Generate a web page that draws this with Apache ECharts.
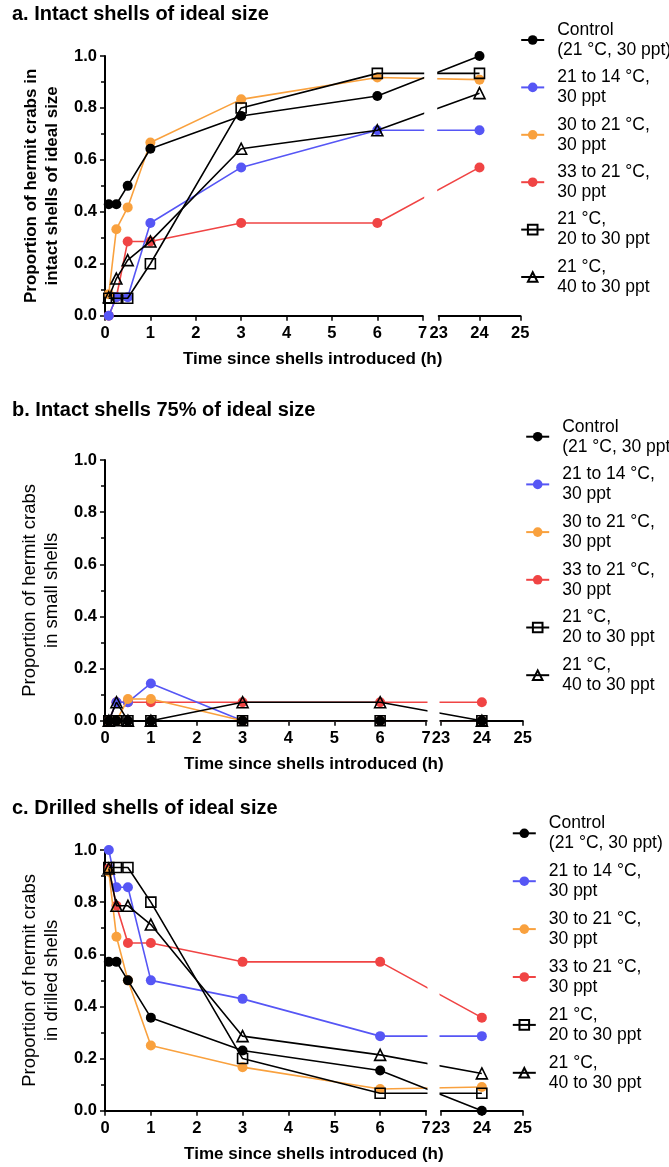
<!DOCTYPE html>
<html><head><meta charset="utf-8">
<script src="https://cdn.jsdelivr.net/npm/echarts@6/dist/echarts.min.js"></script>
<style>html,body{margin:0;padding:0;background:#fff}#c{width:669px;height:1167px}</style>
</head><body><div id="c"></div>
<script>
// ---- data ----
const times = [0.083, 0.25, 0.5, 1, 3, 6, 24];
const seriesNames = ['Control\n(21 °C, 30 ppt)', '21 to 14 °C,\n30 ppt', '30 to 21 °C,\n30 ppt', '33 to 21 °C,\n30 ppt', '21 °C,\n20 to 30 ppt', '21 °C,\n40 to 30 ppt'];
const leftTicks = [0, 7];     // left axis segment range (h)
const rightTicks = [23, 25];  // right axis segment range (h)
const yTicks = [0, 1];

// Panel a: intact shells of ideal size
const a_control = [0.429, 0.429, 0.5, 0.643, 0.769, 0.846, 1.0];
const a_21to14  = [0, 0.071, 0.071, 0.357, 0.571, 0.714, 0.714];
const a_30to21  = [0.083, 0.333, 0.417, 0.667, 0.833, 0.917, 0.909];
const a_33to21  = [0, 0.071, 0.286, 0.286, 0.357, 0.357, 0.571];
const a_20to30  = [0.067, 0.067, 0.067, 0.2, 0.8, 0.933, 0.933];
const a_40to30  = [0.071, 0.143, 0.214, 0.286, 0.643, 0.714, 0.857];
// Panel b: intact shells 75% of ideal size
const b_control = [0, 0, 0, 0, 0, 0, 0];
const b_21to14  = [0, 0.071, 0.071, 0.143, 0, 0, 0];
const b_30to21  = [0, 0, 0.083, 0.083, 0, 0, 0];
const b_33to21  = [0, 0.071, 0.071, 0.071, 0.071, 0.071, 0.071];
const b_20to30  = [0, 0, 0, 0, 0, 0, 0];
const b_40to30  = [0, 0.071, 0, 0, 0.071, 0.071, 0];
// Panel c: drilled shells of ideal size
const c_control = [0.571, 0.571, 0.5, 0.357, 0.231, 0.154, 0];
const c_21to14  = [1.0, 0.857, 0.857, 0.5, 0.429, 0.286, 0.286];
const c_30to21  = [0.917, 0.667, 0.5, 0.25, 0.167, 0.083, 0.091];
const c_33to21  = [0.929, 0.786, 0.643, 0.643, 0.571, 0.571, 0.357];
const c_20to30  = [0.933, 0.933, 0.933, 0.8, 0.2, 0.067, 0.067];
const c_40to30  = [0.929, 0.786, 0.786, 0.714, 0.286, 0.214, 0.143];

// ---- styles / layout ----
const colors  = ['#000000', '#5656f5', '#f9a13e', '#f04444', '#000000', '#000000'];
const symbols = ['circle', 'circle', 'circle', 'circle', 'rect', 'triangle'];
const zOrder  = [5, 3, 4, 2, 6, 7];
const FONT = 'Liberation Sans, Arial, sans-serif';

const panels = [
  {title: 'a. Intact shells of ideal size', titleTop: 3,
   yName: 'Proportion of hermit crabs in\nintact shells of ideal size', yBold: true, yFont: 17, yLH: 21, yGap: 32,
   top: 56, bottom: 315.7, x0: 105, x7: 422.7, x23: 438.7, x25: 520.3,
   legLeft: 520.2, legTop: 20, legGap: 7.4,
   data: [a_control, a_21to14, a_30to21, a_33to21, a_20to30, a_40to30]},
  {title: 'b. Intact shells 75% of ideal size', titleTop: 399,
   yName: 'Proportion of hermit crabs\nin small shells', yBold: false, yFont: 18.5, yLH: 22, yGap: 29,
   top: 460, bottom: 720.7, x0: 105, x7: 426, x23: 441, x25: 522.7,
   legLeft: 525.2, legTop: 416.7, legGap: 7.7,
   data: [b_control, b_21to14, b_30to21, b_33to21, b_20to30, b_40to30]},
  {title: 'c. Drilled shells of ideal size', titleTop: 797,
   yName: 'Proportion of hermit crabs\nin drilled shells', yBold: false, yFont: 18.5, yLH: 22, yGap: 29,
   top: 850, bottom: 1110.7, x0: 105, x7: 426, x23: 441, x25: 522.7,
   legLeft: 511.8, legTop: 813.3, legGap: 7.9,
   data: [c_control, c_21to14, c_30to21, c_33to21, c_20to30, c_40to30]}
];

const grid = [], xAxis = [], yAxis = [], series = [], title = [], legend = [], graphic = [];

panels.forEach((p, pi) => {
  const H = p.bottom - p.top;
  const sL = (p.x7 - p.x0) / leftTicks[1];
  const sR = (p.x25 - p.x23) / (rightTicks[1] - rightTicks[0]);
  // broken-axis display coordinate (in left-segment hour units)
  const disp = x => x <= leftTicks[1] ? x : (p.x23 - p.x0 + (x - rightTicks[0]) * sR) / sL;
  const dMax = disp(rightTicks[1]);
  const g0 = grid.length;
  grid.push({left: p.x0, top: p.top, width: p.x25 - p.x0, height: H});          // main
  grid.push({left: p.x0, top: p.top, width: p.x7 - p.x0, height: H});           // left segment
  grid.push({left: p.x23, top: p.top, width: p.x25 - p.x23, height: H});        // right segment

  title.push({text: p.title, left: 12, top: p.titleTop, padding: 0,
    textStyle: {fontFamily: FONT, fontSize: 20, fontWeight: 'bold', color: '#000', lineHeight: 22}});

  const xi = xAxis.length;
  // main (hidden) axis carrying the series and the axis name
  xAxis.push({type: 'value', gridIndex: g0, min: 0, max: dMax,
    axisLine: {show: false}, axisTick: {show: false}, axisLabel: {show: false}, splitLine: {show: false},
    name: 'Time since shells introduced (h)', nameLocation: 'middle', nameGap: 35,
    nameTextStyle: {fontFamily: FONT, fontSize: 17, fontWeight: 'bold', color: '#000'}});
  const segAxis = (gi, mn, mx) => ({type: 'value', gridIndex: gi, min: mn, max: mx, interval: 1,
    axisLine: {show: true, onZero: false, lineStyle: {color: '#000', width: 2}},
    axisTick: {show: true, length: 5, lineStyle: {color: '#000', width: 1.5}},
    axisLabel: {fontFamily: FONT, fontSize: 16.5, fontWeight: 'bold', color: '#000', margin: 9},
    splitLine: {show: false}});
  xAxis.push(segAxis(g0 + 1, leftTicks[0], leftTicks[1]));
  xAxis.push(segAxis(g0 + 2, rightTicks[0], rightTicks[1]));
  // break marks (upward part of the tick at the break)
  const breakAxis = (gi, mn, mx, v) => ({type: 'value', gridIndex: gi, min: mn, max: mx,
    axisLine: {show: false}, axisLabel: {show: false}, splitLine: {show: false},
    axisTick: {show: true, inside: true, length: 4, customValues: [v], lineStyle: {color: '#000', width: 1.5}}});
  xAxis.push(breakAxis(g0 + 1, leftTicks[0], leftTicks[1], leftTicks[1]));
  xAxis.push(breakAxis(g0 + 2, rightTicks[0], rightTicks[1], rightTicks[0]));

  const yi = yAxis.length;
  yAxis.push({type: 'value', gridIndex: g0, min: yTicks[0], max: yTicks[1], interval: 0.2,
    axisLine: {show: true, lineStyle: {color: '#000', width: 2}},
    axisTick: {show: true, length: 5, lineStyle: {color: '#000', width: 1.5}},
    minorTick: {show: true, splitNumber: 2, length: 4, lineStyle: {color: '#000', width: 1.5}},
    axisLabel: {fontFamily: FONT, fontSize: 16.5, fontWeight: 'bold', color: '#000', margin: 8,
      formatter: v => v.toFixed(1)},
    splitLine: {show: false}, minorSplitLine: {show: false},
    name: p.yName, nameLocation: 'middle', nameGap: p.yGap,
    nameTextStyle: {fontFamily: FONT, fontSize: p.yFont, fontWeight: p.yBold ? 'bold' : 'normal',
      color: '#000', lineHeight: p.yLH}});
  yAxis.push({type: 'value', gridIndex: g0 + 1, min: 0, max: 1, show: false});
  yAxis.push({type: 'value', gridIndex: g0 + 2, min: 0, max: 1, show: false});

  p.data.forEach((vals, si) => {
    const open = symbols[si] !== 'circle';
    series.push({type: 'line', name: seriesNames[si], xAxisIndex: xi, yAxisIndex: yi,
      data: times.map((t, k) => [disp(t), vals[k]]),
      symbol: symbols[si], symbolSize: open ? (symbols[si] === 'rect' ? 10 : 11) : 10,
      lineStyle: {color: colors[si], width: 1.6},
      itemStyle: open ? {color: 'rgba(255,255,255,0)', borderColor: '#000', borderWidth: 1.6} : {color: colors[si], borderWidth: 0},
      emphasis: {disabled: true}, animation: false, clip: false, z: zOrder[si]});
  });

  legend.push({orient: 'vertical', left: p.legLeft, top: p.legTop, padding: 0, itemGap: p.legGap,
    itemWidth: 23, itemHeight: 12, data: seriesNames, selectedMode: false,
    textStyle: {fontFamily: FONT, fontSize: 17.5, color: '#000', lineHeight: 20, padding: [0, 0, 0, 8]}});

  // blank the break gap across the plot
  graphic.push({type: 'rect', z: 100,
    shape: {x: p.x7 + 1.5, y: p.top - 3, width: p.x23 - p.x7 - 3, height: H + 6},
    style: {fill: '#fff'}});
});

const chart = echarts.init(document.getElementById('c'), null, {renderer: 'canvas'});
chart.setOption({backgroundColor: '#fff', animation: false, title, grid, xAxis, yAxis, series, legend, graphic});
</script></body></html>
